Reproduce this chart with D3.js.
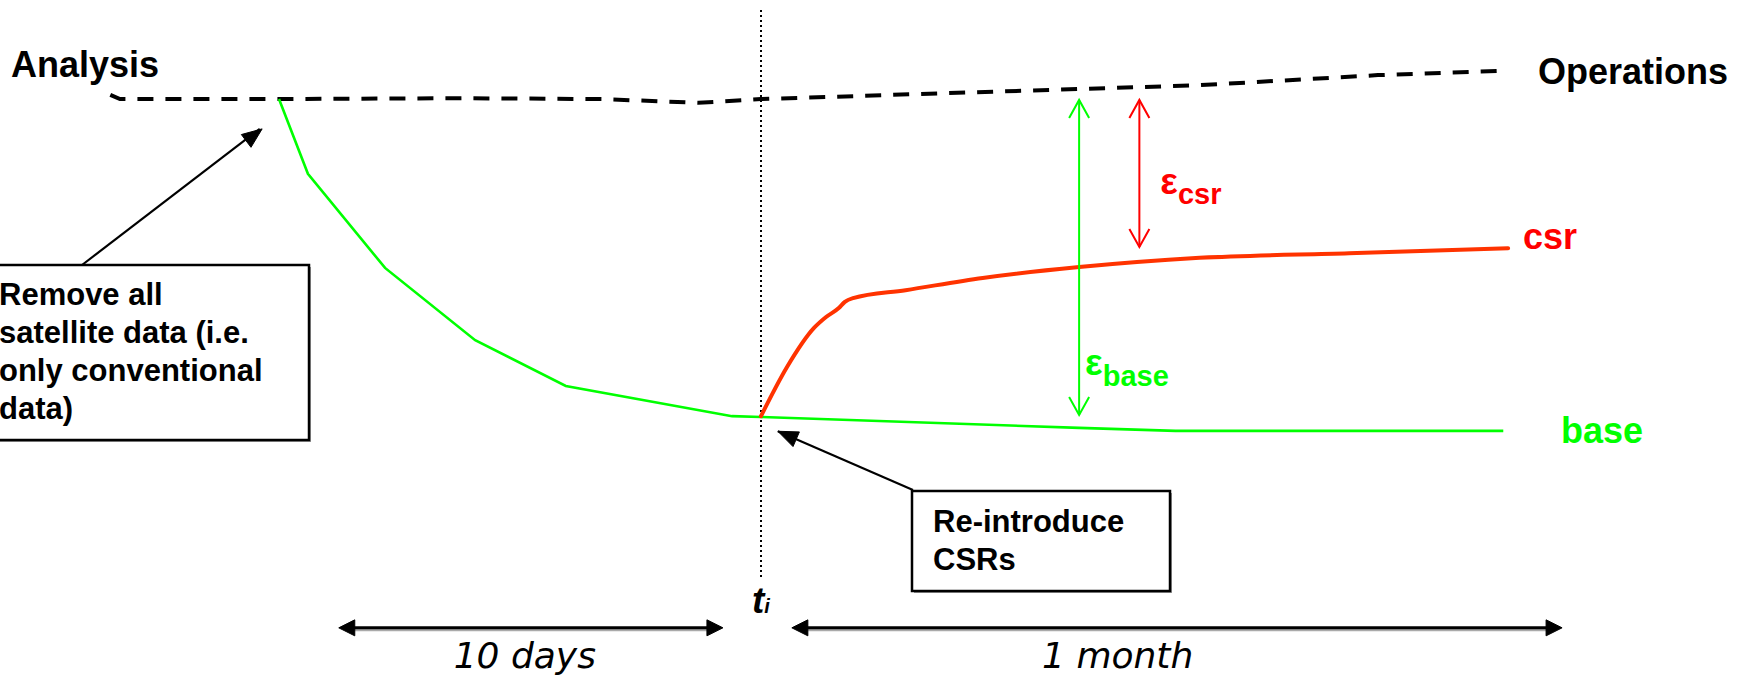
<!DOCTYPE html>
<html>
<head>
<meta charset="utf-8">
<script src="https://cdn.jsdelivr.net/npm/d3@7"></script>
<style>
  body { margin: 0; background: #fff; }
  svg { display: block; }
  .lbl { font-family: "Liberation Sans", Arial, sans-serif; font-weight: bold; }
  .span { font-family: "DejaVu Sans", Verdana, sans-serif; font-style: italic; }
</style>
</head>
<body>
<svg id="chart" width="1750" height="680"></svg>
<script>
// time in days (0 = satellite data removed, 10 = t_i), skill in arbitrary units
var opsDays  = [-3.5, -3.3, 0, 3.8, 6.7, 8.7, 10, 16.6, 19.1, 22.8, 25.3];
var opsSkill = [91.7, 90.7, 90.7, 90.9, 90.7, 89.8, 90.7, 93.1, 94.0, 96.4, 97.4];

var baseDays  = [0, 0.6, 2.2, 4.07, 5.95, 9.4, 10, 16.6, 18.6, 25.4];
var baseSkill = [90.7, 72.9, 50.5, 33.3, 22.4, 15.2, 15.0, 12.4, 11.7, 11.7];

var csrDays  = [10, 10.54, 11.1, 11.35, 11.62, 11.74, 11.91, 13.0, 14.6, 16.6, 17.8, 19.1, 22.2, 25.5];
var csrSkill = [15.2, 26.9, 36.2, 38.8, 41.0, 42.4, 43.3, 45.2, 48.1, 50.7, 51.9, 52.9, 54.0, 55.2];

var tiDay = 10;
// error bars: [day, top skill, bottom skill]
var epsBase = [16.6, 90.5, 15.5];
var epsCsr  = [17.85, 90.5, 55.5];
// span arrows: [from day, to day, label day]
var tenDays  = [1.24, 9.21, 5.1];
var oneMonth = [10.64, 26.62, 17.4];
var spanSkill = -35.2;

var svg = d3.select("#chart");
var x = d3.scaleLinear().domain([0, 10]).range([279, 761]);
var y = d3.scaleLinear().domain([0, 100]).range([480, 60]);

function series(days, vals) {
    return days.map(function (d, i) { return [d, vals[i]]; });
}
var line = d3.line().x(function (d) { return x(d[0]); }).y(function (d) { return y(d[1]); });

function head(g, x1, y1, x2, y2, len, half, filled, color, w) {
    var a = Math.atan2(y2 - y1, x2 - x1);
    var bx = x2 - len * Math.cos(a), by = y2 - len * Math.sin(a);
    var px = -Math.sin(a) * half, py = Math.cos(a) * half;
    var d = "M" + (bx + px) + "," + (by + py) + "L" + x2 + "," + y2 + "L" + (bx - px) + "," + (by - py);
    g.append("path").attr("d", filled ? d + "Z" : d)
        .attr("fill", filled ? color : "none")
        .attr("stroke", color).attr("stroke-width", w);
}

// dotted t_i line
svg.append("line")
    .attr("x1", x(tiDay)).attr("x2", x(tiDay))
    .attr("y1", 10).attr("y2", 578)
    .attr("stroke", "#000").attr("stroke-width", 2)
    .attr("stroke-dasharray", "2,3");

// operations (dashed)
svg.append("path")
    .attr("d", line.curve(d3.curveLinear)(series(opsDays, opsSkill)))
    .attr("fill", "none").attr("stroke", "#000")
    .attr("stroke-width", 4).attr("stroke-dasharray", "16,12");

// base
svg.append("path")
    .attr("d", line.curve(d3.curveLinear)(series(baseDays, baseSkill)))
    .attr("fill", "none").attr("stroke", "#00ff00").attr("stroke-width", 2.6);

// csr
svg.append("path")
    .attr("d", line.curve(d3.curveMonotoneX)(series(csrDays, csrSkill)))
    .attr("fill", "none").attr("stroke", "#ff3300").attr("stroke-width", 4)
    .attr("stroke-linecap", "round");

// error arrows
[[epsBase, "#00ff00"], [epsCsr, "#ff0000"]].forEach(function (e) {
    var g = svg.append("g");
    var ex = x(e[0][0]), t = y(e[0][1]), b = y(e[0][2]);
    g.append("line").attr("x1", ex).attr("x2", ex).attr("y1", t).attr("y2", b)
        .attr("stroke", e[1]).attr("stroke-width", 2);
    head(g, ex, b, ex, t, 18, 10, false, e[1], 2);
    head(g, ex, t, ex, b, 18, 10, false, e[1], 2);
});

// epsilon labels
var eb = svg.append("text").attr("class", "lbl").attr("fill", "#00ff00")
    .attr("x", x(epsBase[0]) + 6).attr("y", 375).attr("font-size", 37);
eb.append("tspan").text("ε");
eb.append("tspan").attr("font-size", 29).attr("dy", 11).text("base");

var ec = svg.append("text").attr("class", "lbl").attr("fill", "#ff0000")
    .attr("x", x(epsCsr[0]) + 21).attr("y", 194).attr("font-size", 37);
ec.append("tspan").text("ε");
ec.append("tspan").attr("font-size", 29).attr("dy", 10).text("csr");

// end labels
svg.append("text").attr("class", "lbl").attr("x", 11).attr("y", 77)
    .attr("font-size", 36).attr("fill", "#000").text("Analysis");
svg.append("text").attr("class", "lbl").attr("x", 1538).attr("y", 84)
    .attr("font-size", 36).attr("fill", "#000").text("Operations");
svg.append("text").attr("class", "lbl").attr("x", 1523).attr("y", 249)
    .attr("font-size", 36).attr("fill", "#ff0000").text("csr");
svg.append("text").attr("class", "lbl").attr("x", 1561).attr("y", 443)
    .attr("font-size", 36).attr("fill", "#00ff00").text("base");

// boxes
function box(x0, y0, w, h, lines, tx, ty0) {
    var g = svg.append("g");
    g.append("rect").attr("x", x0 + 2).attr("y", y0 + 2).attr("width", w).attr("height", h)
        .attr("fill", "#999");
    g.append("rect").attr("x", x0).attr("y", y0).attr("width", w).attr("height", h)
        .attr("fill", "#fff").attr("stroke", "#000").attr("stroke-width", 2.5);
    lines.forEach(function (s, i) {
        g.append("text").attr("class", "lbl").attr("x", tx).attr("y", ty0 + i * 38)
            .attr("font-size", 31).text(s);
    });
}

// pointer arrows
var pa = svg.append("g");
pa.append("line").attr("x1", 82).attr("y1", 265).attr("x2", x(-0.4)).attr("y2", y(83.6))
    .attr("stroke", "#000").attr("stroke-width", 2.2);
head(pa, 82, 265, x(-0.35), y(83.6), 20, 8, true, "#000", 1);
pa.append("line").attr("x1", 913).attr("y1", 490).attr("x2", x(10.35)).attr("y2", y(11.6))
    .attr("stroke", "#000").attr("stroke-width", 2.2);
head(pa, 913, 490, x(10.35), y(11.6), 20, 8, true, "#000", 1);

box(-10, 265, 319, 175, ["Remove all", "satellite data (i.e.", "only conventional", "data)"], -1, 305);
box(912, 491, 258, 100, ["Re-introduce", "CSRs"], 933, 532);

// span arrows
[[tenDays, "10 days"], [oneMonth, "1 month"]].forEach(function (s) {
    var g = svg.append("g");
    var a = x(s[0][0]), b = x(s[0][1]), yy = y(spanSkill);
    g.append("line").attr("x1", a + 10).attr("x2", b - 10).attr("y1", yy + 2).attr("y2", yy + 2)
        .attr("stroke", "#aaa").attr("stroke-width", 3);
    g.append("line").attr("x1", a + 10).attr("x2", b - 10).attr("y1", yy).attr("y2", yy)
        .attr("stroke", "#000").attr("stroke-width", 3);
    head(g, b, yy, a, yy, 16, 8, true, "#000", 1);
    head(g, a, yy, b, yy, 16, 8, true, "#000", 1);
    g.append("text").attr("class", "span").attr("x", x(s[0][2])).attr("y", 668)
        .attr("text-anchor", "middle").attr("font-size", 36).text(s[1]);
});

// t_i
var ti = svg.append("text").attr("class", "lbl").attr("x", x(tiDay) - 9).attr("y", 613)
    .attr("font-size", 37).attr("font-style", "italic");
ti.append("tspan").text("t");
ti.append("tspan").attr("font-size", 20).text("i");
</script>
</body>
</html>
